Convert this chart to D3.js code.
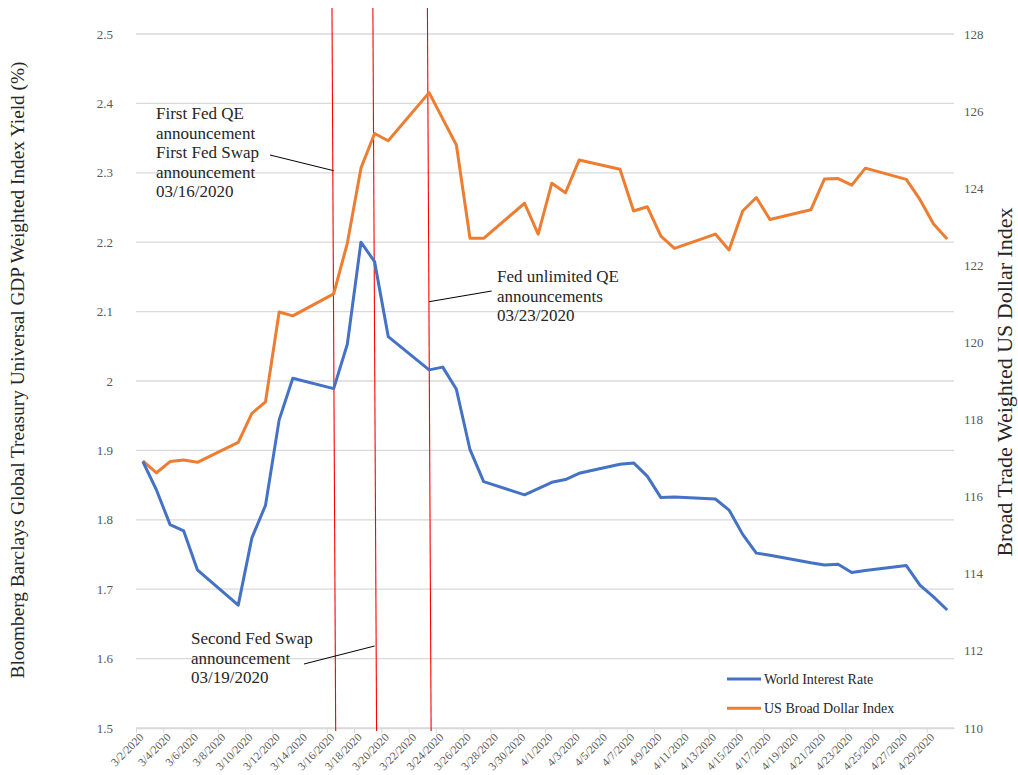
<!DOCTYPE html>
<html>
<head>
<meta charset="utf-8">
<script src="https://cdn.jsdelivr.net/npm/d3@7"></script>
<style>
  body { margin: 0; background: #fff; }
  svg text { font-family: "Liberation Serif", "Times New Roman", serif; }
</style>
</head>
<body>
<svg width="1018" height="775"></svg>
<script>
"use strict";

// trading days shown on the chart
const dates = [
  "3/2/2020", "3/3/2020", "3/4/2020", "3/5/2020", "3/6/2020",
  "3/9/2020", "3/10/2020", "3/11/2020", "3/12/2020", "3/13/2020",
  "3/16/2020", "3/17/2020", "3/18/2020", "3/19/2020", "3/20/2020",
  "3/23/2020", "3/24/2020", "3/25/2020", "3/26/2020", "3/27/2020",
  "3/30/2020", "3/31/2020", "4/1/2020", "4/2/2020", "4/3/2020",
  "4/6/2020", "4/7/2020", "4/8/2020", "4/9/2020", "4/10/2020",
  "4/13/2020", "4/14/2020", "4/15/2020", "4/16/2020", "4/17/2020",
  "4/20/2020", "4/21/2020", "4/22/2020", "4/23/2020", "4/24/2020",
  "4/27/2020", "4/28/2020", "4/29/2020", "4/30/2020",
];

// World Interest Rate (left axis, %)
const worldRate = [
  1.884, 1.843, 1.793, 1.784, 1.728,
  1.677, 1.774, 1.821, 1.944, 2.004,
  1.989, 2.053, 2.200, 2.172, 2.064,
  2.016, 2.020, 1.988, 1.901, 1.855,
  1.836, 1.845, 1.854, 1.858, 1.867,
  1.880, 1.882, 1.863, 1.832, 1.833,
  1.830, 1.814, 1.779, 1.752, 1.749,
  1.738, 1.735, 1.736, 1.724, 1.727,
  1.734, 1.706, 1.689, 1.670,
];

// US Broad Dollar Index (right axis)
const dollarIndex = [
  116.93, 116.62, 116.91, 116.95, 116.89,
  117.41, 118.16, 118.46, 120.79, 120.69,
  121.26, 122.57, 124.52, 125.42, 125.23,
  126.48, 125.80, 125.12, 122.70, 122.70,
  123.61, 122.81, 124.13, 123.88, 124.73,
  124.49, 123.41, 123.52, 122.76, 122.44,
  122.81, 122.40, 123.41, 123.76, 123.19,
  123.44, 124.24, 124.25, 124.08, 124.52,
  124.23, 123.71, 123.07, 122.68,
];

const leftTicks = [1.5, 1.6, 1.7, 1.8, 1.9, 2.0, 2.1, 2.2, 2.3, 2.4, 2.5];
const rightTicks = [110, 112, 114, 116, 118, 120, 122, 124, 126, 128];

const events = [
  { date: "3/16/2020", lines: ["First Fed QE", "announcement", "First Fed Swap", "announcement", "03/16/2020"] },
  { date: "3/19/2020", lines: ["Second Fed Swap", "announcement", "03/19/2020"] },
  { date: "3/23/2020", lines: ["Fed unlimited QE", "announcements", "03/23/2020"] },
];

const seriesNames = ["World Interest Rate", "US Broad Dollar Index"];
const seriesColors = ["#4472C4", "#ED7D31"];

const serif = "'Liberation Serif', 'Times New Roman', serif";

window.addEventListener("load", drawChart);

function drawChart() {
  const svg = d3.select("svg");
  const parse = d3.timeParse("%m/%d/%Y");
  const left = 136, right = 954, top = 34, bottom = 728;

  const start = parse("3/2/2020");
  const end = parse("5/1/2020");
  const x = d3.scaleTime().domain([start, end]).range([left, right]);
  // points sit in the middle of their day
  const xc = (d) => x(d3.timeHour.offset(parse(d), 12));

  const yL = d3.scaleLinear().domain([1.5, 2.5]).range([bottom, top]);
  const yR = d3.scaleLinear().domain([110, 128]).range([bottom, top]);

  // gridlines
  svg.append("g")
    .selectAll("line")
    .data(leftTicks)
    .enter()
    .append("line")
    .attr("x1", left)
    .attr("x2", right)
    .attr("y1", (d) => yL(d))
    .attr("y2", (d) => yL(d))
    .attr("stroke", "#d9d9d9")
    .attr("stroke-width", 1.3);

  // left tick labels
  svg.append("g")
    .selectAll("text")
    .data(leftTicks)
    .enter()
    .append("text")
    .attr("x", 113)
    .attr("y", (d) => yL(d) + 4.5)
    .attr("text-anchor", "end")
    .style("font-family", serif)
    .style("font-size", "13px")
    .style("fill", "#595959")
    .text((d) => (d === 2 ? "2" : d3.format(".1f")(d)));

  // right tick labels
  svg.append("g")
    .selectAll("text")
    .data(rightTicks)
    .enter()
    .append("text")
    .attr("x", 964)
    .attr("y", (d) => yR(d) + 4.5)
    .style("font-family", serif)
    .style("font-size", "13px")
    .style("fill", "#595959")
    .text((d) => d);

  // x axis: ticks on day boundaries, labels on day centres
  const tickDates = d3.timeDay.range(start, end, 2);
  const xAxis = svg.append("g")
    .attr("transform", `translate(0, ${bottom})`)
    .call(
      d3.axisBottom(x)
        .tickValues(tickDates)
        .tickSize(5)
        .tickSizeOuter(0)
        .tickFormat(d3.timeFormat("%-m/%-d/%Y"))
    );
  xAxis.attr("font-family", null);
  xAxis.select(".domain").attr("stroke", "#d9d9d9").attr("stroke-width", 1.3);
  xAxis.selectAll(".tick line").attr("stroke", "#d9d9d9");
  const half = x(d3.timeHour.offset(start, 12)) - x(start);
  xAxis.selectAll(".tick text")
    .attr("text-anchor", "end")
    .attr("x", 0)
    .attr("y", 0)
    .attr("dy", 0)
    .attr("fill", "#595959")
    .attr("transform", `translate(${half + 1}, 10) rotate(-45)`)
    .style("font-family", serif)
    .style("font-size", "11.5px");

  // red event lines
  svg.append("g")
    .selectAll("line")
    .data(events)
    .enter()
    .append("line")
    .attr("x1", (d) => xc(d.date) - 1.7)
    .attr("x2", (d) => xc(d.date) + 2)
    .attr("y1", 8)
    .attr("y2", 731)
    .attr("stroke", "#ff0000")
    .attr("stroke-width", 1.1);

  // series lines
  const rows = dates.map((d, i) => ({ date: d, rate: worldRate[i], dollar: dollarIndex[i] }));
  const rateLine = d3.line().x((d) => xc(d.date)).y((d) => yL(d.rate));
  const dollarLine = d3.line().x((d) => xc(d.date)).y((d) => yR(d.dollar));

  svg.append("path")
    .datum(rows)
    .attr("d", dollarLine)
    .attr("fill", "none")
    .attr("stroke", seriesColors[1])
    .attr("stroke-width", 3)
    .attr("stroke-linejoin", "round");

  svg.append("path")
    .datum(rows)
    .attr("d", rateLine)
    .attr("fill", "none")
    .attr("stroke", seriesColors[0])
    .attr("stroke-width", 3)
    .attr("stroke-linejoin", "round");

  // annotations: text block + connector to the event line
  const notes = [
    { tx: 156, ty: 119, from: [270, 155], toY: 170.7 },
    { tx: 191, ty: 644, from: [304, 664], toY: 646 },
    { tx: 497, ty: 282, from: [491.7, 291], toY: 301.7 },
  ];
  events.forEach((ev, i) => {
    const n = notes[i];
    const t = svg.append("text")
      .attr("x", n.tx)
      .attr("y", n.ty)
      .style("font-family", serif)
      .style("font-size", "17px")
      .style("fill", "#262626");
    ev.lines.forEach((s, k) => {
      t.append("tspan").attr("x", n.tx).attr("y", n.ty + k * 19.5).text(s);
    });
    svg.append("line")
      .attr("x1", n.from[0])
      .attr("y1", n.from[1])
      .attr("x2", xc(ev.date))
      .attr("y2", n.toY)
      .attr("stroke", "#000")
      .attr("stroke-width", 1);
  });

  // axis titles
  svg.append("text")
    .attr("transform", "translate(24, 370) rotate(-90)")
    .attr("text-anchor", "middle")
    .style("font-family", serif)
    .style("font-size", "19.3px")
    .style("fill", "#262626")
    .text("Bloomberg Barclays Global Treasury Universal GDP Weighted Index Yield (%)");

  svg.append("text")
    .attr("transform", "translate(1012, 382) rotate(-90)")
    .attr("text-anchor", "middle")
    .style("font-family", serif)
    .style("font-size", "22px")
    .style("fill", "#262626")
    .text("Broad Trade Weighted US Dollar Index");

  // legend
  const legend = svg.append("g").attr("transform", "translate(727, 679)");
  seriesNames.forEach((name, i) => {
    legend.append("line")
      .attr("x1", 0)
      .attr("x2", 34)
      .attr("y1", i * 29.3)
      .attr("y2", i * 29.3)
      .attr("stroke", seriesColors[i])
      .attr("stroke-width", 3);
    legend.append("text")
      .attr("x", 37)
      .attr("y", i * 29.3 + 5)
      .style("font-family", serif)
      .style("font-size", "14px")
      .style("fill", "#262626")
      .text(name);
  });
}
</script>
</body>
</html>
